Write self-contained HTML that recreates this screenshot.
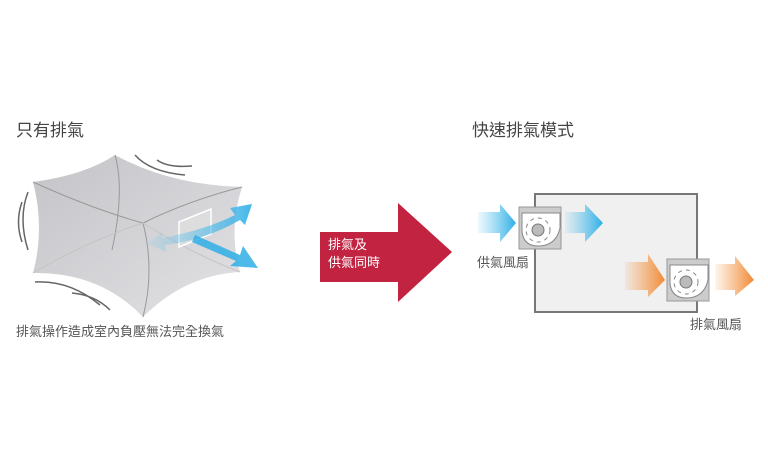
<!DOCTYPE html>
<html><head><meta charset="utf-8"><style>
body{margin:0;width:768px;height:450px;background:#fff;position:relative;overflow:hidden;font-family:"Liberation Sans","Noto Sans CJK TC",sans-serif;}
.t{position:absolute;color:#555;white-space:nowrap}
</style></head><body>
<svg width="768" height="450" style="position:absolute;left:0;top:0">
<defs>
<linearGradient id="b" x1="0" x2="1"><stop offset="0" stop-color="#5cc4ee" stop-opacity="0.1"/><stop offset="1" stop-color="#2eaee6"/></linearGradient>
<linearGradient id="o" x1="0" x2="1"><stop offset="0" stop-color="#f59a4a" stop-opacity="0.1"/><stop offset="1" stop-color="#f08a36"/></linearGradient>
<linearGradient id="g" x1="0" y1="0" x2="1" y2="1"><stop offset="0" stop-color="#c4c4c8"/><stop offset="1" stop-color="#e2e2e5"/></linearGradient>
</defs>
<!-- left room -->
<path d="M33,182 Q85,175 115,155 Q170,185 242,187 Q228,230 240,272 Q185,275 143,317 Q100,272 33,273 Q45,228 33,182Z" fill="url(#g)"/>
<path d="M33,182 Q95,210 143,223 Q190,200 242,187" fill="none" stroke="#999" stroke-width="1"/>
<path d="M115,155 Q125,190 112,250" fill="none" stroke="#999" stroke-width="1"/>
<path d="M143,223 Q155,270 143,317" fill="none" stroke="#999" stroke-width="1"/>
<path d="M33,273 Q90,240 143,223 Q195,255 240,272" fill="none" stroke="#c4c4c4" stroke-width="1"/>
<path d="M135,155 Q150,172 185,175" fill="none" stroke="#666" stroke-width="1.5"/>
<path d="M157,160 Q168,168 192,166" fill="none" stroke="#666" stroke-width="1.5"/>
<path d="M28,192 Q18,218 28,250" fill="none" stroke="#666" stroke-width="1.5"/>
<path d="M22,202 Q15,222 22,242" fill="none" stroke="#666" stroke-width="1.5"/>
<path d="M35,282 Q70,280 100,305" fill="none" stroke="#666" stroke-width="1.5"/>
<path d="M72,293 Q95,295 110,310" fill="none" stroke="#666" stroke-width="1.5"/>
<path d="M179,222 L211,209 L211,234 L179,247Z" fill="#ddd" stroke="#fff" stroke-width="1.5"/>
<path d="M146,243 L162,233 L162,238 Q205,230 235,215 L230,208 L252,204 L245,225 L240,220 Q205,240 165,245 L166,252Z" fill="url(#b)" opacity="0.9"/>
<path d="M195,235 L240,255 L243,246 L258,268 L230,266 L236,261 L192,242Z" fill="#2eaee6" opacity="0.85"/>
<!-- red arrow -->
<path d="M320,232 L398,232 L398,203 L452,252 L398,302 L398,282 L320,282Z" fill="#c12341"/>
<!-- right box -->
<rect x="535" y="194" width="162" height="118" fill="#f0f0f0" stroke="#777" stroke-width="2"/>
<path d="M478,212 L500,212 L500,204 L516,223 L500,242 L500,233 L478,233Z" fill="url(#b)"/>
<path d="M565,212 L585,212 L585,204 L603,223 L585,242 L585,233 L565,233Z" fill="url(#b)"/>
<path d="M625,262 L648,262 L648,254 L665,280 L648,297 L648,290 L625,290Z" fill="url(#o)"/>
<path d="M715,264 L735,264 L735,256 L754,280 L735,296 L735,290 L715,290Z" fill="url(#o)"/>
<g id="fan">
<rect x="519" y="207" width="42" height="42" fill="#ccc" stroke="#999"/>
<path d="M522,213 L560,213 L560,228 Q556,246 538,246 Q524,246 522,232Z" fill="#fff" stroke="#888"/>
<circle cx="538" cy="230" r="6" fill="#bbb" stroke="#777"/>
<circle cx="538" cy="230" r="12" fill="none" stroke="#888" stroke-dasharray="4 4"/>
</g>
<use href="#fan" x="148" y="52"/>
</svg>
<div class="t" style="left:16px;top:116px;font-size:17px;color:#444">只有排氣</div>
<div class="t" style="left:472px;top:116px;font-size:17px;color:#444">快速排氣模式</div>
<div class="t" style="left:16px;top:321px;font-size:13px">排氣操作造成室內負壓無法完全換氣</div>
<div class="t" style="left:328px;top:236px;font-size:13px;color:#fff;line-height:18px">排氣及<br>供氣同時</div>
<div class="t" style="left:477px;top:252px;font-size:13px">供氣風扇</div>
<div class="t" style="left:690px;top:314px;font-size:13px">排氣風扇</div>
</body></html>
